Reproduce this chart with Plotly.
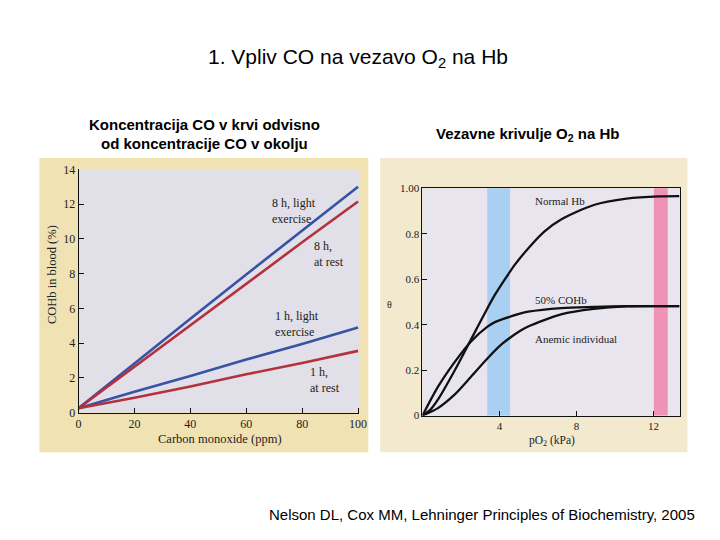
import plotly.graph_objects as go

# ---------------- data: left chart (COHb vs ambient CO) ----------------
co_ppm = [0, 20, 40, 60, 80, 100]
cohb_8h_exercise = [0.25, 2.85, 5.4, 7.95, 10.5, 13.0]
cohb_8h_rest = [0.25, 2.65, 5.0, 7.4, 9.8, 12.15]
cohb_1h_exercise = [0.25, 1.2, 2.1, 3.05, 3.95, 4.9]
cohb_1h_rest = [0.25, 0.85, 1.5, 2.2, 2.85, 3.55]
left_xticks = [0, 20, 40, 60, 80, 100]
left_yticks = [0, 2, 4, 6, 8, 10, 12, 14]

# ---------------- data: right chart (O2 binding curves) ----------------
po2_normal = [0, 0.4, 0.8, 1.65, 2.51, 3.36, 3.79, 4.52, 4.81, 5.49, 6.34, 7.2, 8.9, 10.6, 12.3, 13.35]
theta_normal = [0, 0.025, 0.07, 0.195, 0.333, 0.47, 0.535, 0.63, 0.665, 0.735, 0.81, 0.862, 0.926, 0.954, 0.964, 0.965]
po2_cohb = [0, 0.8, 1.65, 2.51, 3.36, 3.79, 5.06, 5.49, 7.2, 8.9, 10.6, 13.35]
theta_cohb = [0, 0.126, 0.233, 0.325, 0.39, 0.412, 0.448, 0.457, 0.473, 0.478, 0.481, 0.481]
po2_anemic = [0, 0.8, 1.65, 2.51, 3.36, 4.13, 5.06, 5.49, 7.2, 8.9, 10.6, 13.35]
theta_anemic = [0, 0.033, 0.091, 0.17, 0.25, 0.315, 0.372, 0.392, 0.445, 0.469, 0.48, 0.481]
tissue_band = [3.36, 4.55]
lung_band = [12.02, 12.74]
right_xticks = [4, 8, 12]
right_yticks = [0, 0.2, 0.4, 0.6, 0.8, 1.0]
right_yticktext = ["0", "0.2", "0.4", "0.6", "0.8", "1.00"]

SERIF = "Liberation Serif"
SANS = "Liberation Sans"
BLUE = "#3852a6"
RED = "#b5313d"
INK = "#222222"

fig = go.Figure()

for y, c in [(cohb_8h_exercise, BLUE), (cohb_8h_rest, RED),
             (cohb_1h_exercise, BLUE), (cohb_1h_rest, RED)]:
    fig.add_trace(go.Scatter(x=co_ppm, y=y, mode="lines", line=dict(color=c, width=2.6),
                             xaxis="x", yaxis="y", showlegend=False, hoverinfo="skip"))

for xs, ys in [(po2_normal, theta_normal), (po2_cohb, theta_cohb), (po2_anemic, theta_anemic)]:
    fig.add_trace(go.Scatter(x=xs, y=ys, mode="lines", line=dict(color="#111111", width=2.3, shape="spline", smoothing=0.8),
                             xaxis="x2", yaxis="y2", showlegend=False, hoverinfo="skip"))

W, H = 720, 540
def px(x):
    return x / W
def py(y):
    return 1 - y / H

shapes = [
    # scanned panel backgrounds
    dict(type="rect", xref="paper", yref="paper", x0=px(37), x1=px(371), y0=py(457), y1=py(155),
         fillcolor="#f1e2b4", line_width=0, layer="below"),
    dict(type="rect", xref="paper", yref="paper", x0=px(383), x1=px(695), y0=py(457), y1=py(155),
         fillcolor="#f3e9cf", line_width=0, layer="below"),
    # plot area backgrounds
    dict(type="rect", xref="x domain", yref="y domain", x0=0, x1=1, y0=0, y1=1,
         fillcolor="#e1dfe7", line_width=0, layer="below"),
    dict(type="rect", xref="x2 domain", yref="y2 domain", x0=0, x1=1, y0=0, y1=1,
         fillcolor="#e8e5ef", line_width=0, layer="below"),
    # pO2 bands
    dict(type="rect", xref="x2", yref="y2 domain", x0=tissue_band[0], x1=tissue_band[1], y0=0, y1=1,
         fillcolor="#a9d0f2", line_width=0, layer="below"),
    dict(type="rect", xref="x2", yref="y2 domain", x0=lung_band[0], x1=lung_band[1], y0=0, y1=1,
         fillcolor="#ef92b6", line_width=0, layer="below"),
]

ann = []
def a(text, x, y, xref, yref, size, font=SERIF, xanchor="left", yanchor="middle", color=INK, angle=0, align="left"):
    ann.append(dict(text=text, x=x, y=y, xref=xref, yref=yref, showarrow=False,
                    xanchor=xanchor, yanchor=yanchor, textangle=angle, align=align,
                    font=dict(family=font, size=size, color=color)))

# slide texts
a("1. Vpliv CO na vezavo O<sub>2</sub> na Hb", px(360), py(52), "paper", "paper", 21, SANS, "center", "middle", "#000000", align="center")
a("<b>Koncentracija CO v krvi odvisno</b>", px(205), py(121), "paper", "paper", 15, SANS, "center", "middle", "#000000", align="center")
a("<b>od koncentracije CO v okolju</b>", px(205), py(140), "paper", "paper", 15, SANS, "center", "middle", "#000000", align="center")
a("<b>Vezavne krivulje O<sub>2</sub> na Hb</b>", px(533), py(131), "paper", "paper", 15, SANS, "center", "middle", "#000000", align="center")
a("Nelson DL, Cox MM, Lehninger Principles of Biochemistry, 2005", px(705), py(521), "paper", "paper", 15, SANS, "right", "middle", "#000000", align="right")

# left chart labels
a("8 h, light<br>exercise", 68.5, 11.6, "x", "y", 12)
a("8 h,<br>at rest", 83.5, 9.15, "x", "y", 12)
a("1 h, light<br>exercise", 69.5, 5.1, "x", "y", 12)
a("1 h,<br>at rest", 82.0, 1.88, "x", "y", 12)
a("Carbon monoxide (ppm)", px(220), py(444), "paper", "paper", 12.5, SERIF, "center", "middle", align="center")
a("COHb in blood (%)", px(50), py(275), "paper", "paper", 12.5, SERIF, "center", "middle", angle=-90, align="center")

# right chart labels
a("Normal Hb", 5.73, 0.944, "x2", "y2", 11)
a("50% COHb", 5.73, 0.509, "x2", "y2", 11)
a("Anemic individual", 5.73, 0.337, "x2", "y2", 11)
a("pO<sub>2</sub> in<br>tissues", 3.9, 1.075, "x2", "y2", 11, xanchor="center", align="center")
a("pO<sub>2</sub> in<br>lungs", 12.38, 1.075, "x2", "y2", 11, xanchor="center", align="center")
a("θ", px(392), py(305), "paper", "paper", 10, SERIF, "center", "middle", align="center")
a("pO<sub>2</sub> (kPa)", px(558), py(446), "paper", "paper", 11.5, SERIF, "center", "middle", align="center")

axis_common = dict(showgrid=False, zeroline=False, showline=True, linecolor="#111111", linewidth=1,
                   ticks="inside", ticklen=5, tickcolor="#111111",
                   tickfont=dict(family=SERIF, size=12, color=INK), fixedrange=True)
right_font = dict(family=SERIF, size=11, color=INK)

fig.update_layout(
    width=W, height=H, margin=dict(l=0, r=0, t=0, b=0),
    paper_bgcolor="white", plot_bgcolor="rgba(0,0,0,0)",
    showlegend=False,
    xaxis=dict(domain=[px(76.7), px(362)], range=[0, 100.5], tickvals=left_xticks, anchor="y", **axis_common),
    yaxis=dict(domain=[py(416.3), py(166.7)], range=[0, 14], tickvals=left_yticks, anchor="x", **axis_common),
    xaxis2=dict(domain=[px(426), px(687)], range=[0, 13.35], tickvals=right_xticks, anchor="y2", mirror=True,
                **{**axis_common, "tickfont": right_font}),
    yaxis2=dict(domain=[py(419.5), py(186)], range=[0, 1], tickvals=right_yticks, ticktext=right_yticktext,
                anchor="x2", mirror=True, **{**axis_common, "tickfont": right_font}),
    shapes=shapes, annotations=ann,
)

fig.write_html("out.html")
